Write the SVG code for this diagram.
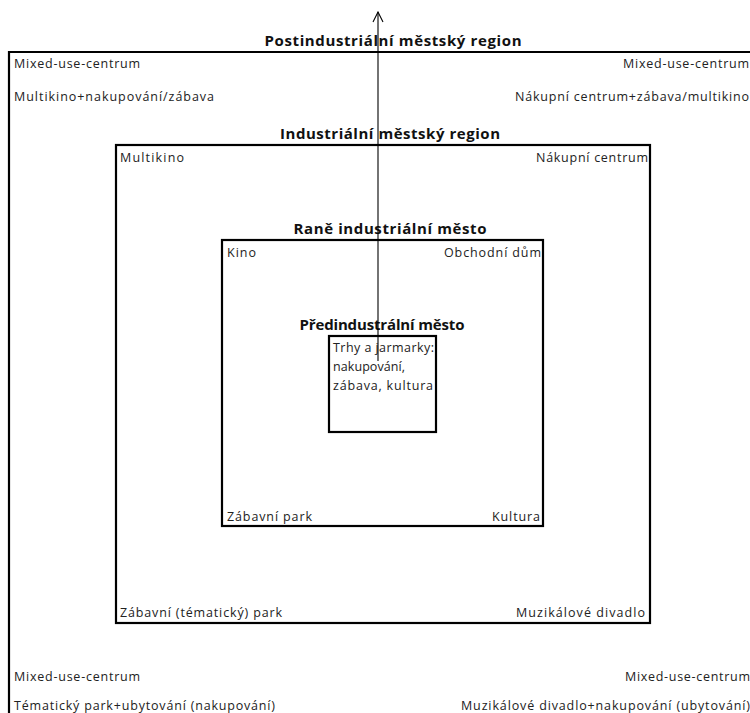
<svg xmlns="http://www.w3.org/2000/svg" width="750" height="713" viewBox="0 0 750 713">
<defs>
<style>
text{font-family:"Open Sans","Liberation Sans",sans-serif;fill:#222;}
.t{font-size:12.5px;}
.h{font-size:15px;font-weight:bold;fill:#111;}
.e{text-anchor:end;}
.box{fill:none;stroke:#000;stroke-width:2.2;}
.arr{fill:none;stroke:#000;stroke-width:1.1;}
</style>
<marker id="open" viewBox="0 0 12 12" refX="11" refY="6" markerWidth="12" markerHeight="12" markerUnits="userSpaceOnUse" orient="auto">
<path d="M1,1 L11,6 L1,11" fill="none" stroke="#000" stroke-width="1.1"/>
</marker>
</defs>
<rect width="750" height="713" fill="#fff"/>
<g id="postindustrial">
<path class="box" d="M9,713 L9,52 L752,52"/>
<text class="h" x="393" y="46" text-anchor="middle" textLength="257">Postindustriální městský region</text>
<text class="t" x="14" y="68" textLength="126">Mixed-use-centrum</text>
<text class="t" x="14" y="101" textLength="200">Multikino+nakupování/zábava</text>
<text class="t e" x="749" y="68" textLength="126">Mixed-use-centrum</text>
<text class="t e" x="749" y="101" textLength="234">Nákupní centrum+zábava/multikino</text>
<text class="t" x="14" y="681" textLength="126">Mixed-use-centrum</text>
<text class="t" x="14" y="710" textLength="261">Tématický park+ubytování (nakupování)</text>
<text class="t e" x="750" y="681" textLength="125">Mixed-use-centrum</text>
<text class="t e" x="750" y="710" textLength="289">Muzikálové divadlo+nakupování (ubytování)</text>
</g>
<g id="industrial">
<rect class="box" x="116" y="145" width="534" height="478"/>
<text class="h" x="390" y="139" text-anchor="middle" textLength="220">Industriální městský region</text>
<text class="t" x="120" y="162" textLength="64">Multikino</text>
<text class="t e" x="648" y="162" textLength="112">Nákupní centrum</text>
<text class="t" x="120" y="617" textLength="162">Zábavní (tématický) park</text>
<text class="t e" x="645" y="617" textLength="129">Muzikálové divadlo</text>
</g>
<g id="early-industrial">
<rect class="box" x="222" y="240" width="321" height="286"/>
<text class="h" x="390" y="234" text-anchor="middle" textLength="193">Raně industriální město</text>
<text class="t" x="227" y="257" textLength="29">Kino</text>
<text class="t e" x="541" y="257" textLength="97">Obchodní dům</text>
<text class="t" x="227" y="521" textLength="85">Zábavní park</text>
<text class="t e" x="540" y="521" textLength="48">Kultura</text>
</g>
<g id="preindustrial">
<rect class="box" x="329" y="336" width="107" height="96"/>
<text class="h" x="382" y="330" text-anchor="middle" textLength="165">Předindustrální město</text>
<text class="t" x="333" y="352" textLength="101">Trhy a jarmarky:</text>
<text class="t" x="333" y="371" textLength="72">nakupování,</text>
<text class="t" x="333" y="390" textLength="100">zábava, kultura</text>
</g>
<g id="connectors">
<line class="arr" x1="378" y1="361" x2="378" y2="12" marker-end="url(#open)"/>
</g>
</svg>
